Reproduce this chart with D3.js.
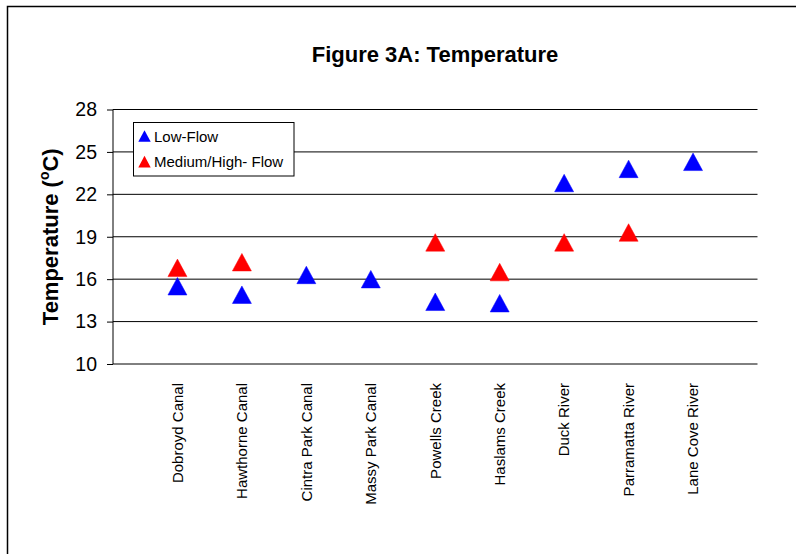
<!DOCTYPE html>
<html>
<head>
<meta charset="utf-8">
<script src="https://cdn.jsdelivr.net/npm/d3@7"></script>
<style>
  body { margin: 0; background: #fff; }
  svg { display: block; font-family: Arial, "Liberation Sans", sans-serif; }
</style>
</head>
<body>
<svg id="chart"></svg>
<script>
// site names along the x axis
const sites = ["Dobroyd Canal", "Hawthorne Canal", "Cintra Park Canal", "Massy Park Canal",
  "Powells Creek", "Haslams Creek", "Duck River", "Parramatta River", "Lane Cove River"];
// temperature readings (null = no sample)
const lowFlow = [15.5, 14.9, 16.3, 16.0, 14.4, 14.3, 22.8, 23.8, 24.3];
const medHighFlow = [16.8, 17.2, null, null, 18.6, 16.5, 18.6, 19.3, null];
const yTicks = [10, 13, 16, 19, 22, 25, 28];
const seriesNames = ["Low-Flow", "Medium/High- Flow"];
const seriesColors = ["#0000ff", "#ff0000"];

const width = 796;
const height = 554;
const marginTop = 109.5;
const marginRight = 38.5;
const marginBottom = 190;
const marginLeft = 113;

const svg = d3.select("#chart")
  .attr("width", width)
  .attr("height", height)
  .attr("viewBox", [0, 0, width, height]);

// outer frame (runs off the bottom/right of the picture)
svg.append("rect")
  .attr("x", 7.5).attr("y", 6.5)
  .attr("width", 820).attr("height", 600)
  .attr("fill", "none")
  .attr("stroke", "#000")
  .attr("stroke-width", 1.5);

const x = d3.scalePoint()
  .domain(sites)
  .range([marginLeft, width - marginRight])
  .padding(1);

const y = d3.scaleLinear()
  .domain([10, 28])
  .range([height - marginBottom, marginTop]);

// title
svg.append("text")
  .attr("x", 435)
  .attr("y", 62)
  .attr("text-anchor", "middle")
  .attr("font-weight", "bold")
  .attr("font-size", 22)
  .text("Figure 3A: Temperature");

// gridlines
svg.append("g")
  .selectAll("line")
  .data(yTicks.slice(1))
  .join("line")
  .attr("x1", marginLeft)
  .attr("x2", width - marginRight)
  .attr("y1", d => y(d))
  .attr("y2", d => y(d))
  .attr("stroke", "#000")
  .attr("stroke-width", 1);

// y axis
const yAxis = svg.append("g")
  .attr("transform", `translate(${marginLeft},0)`)
  .call(d3.axisLeft(y).tickValues(yTicks).tickSize(6).tickPadding(10).tickFormat(d3.format("d")));
yAxis.select(".domain").attr("d", `M0,${y(28)}V${y(10)}`).attr("stroke", "#000");
yAxis.selectAll(".tick line").attr("stroke", "#000");
yAxis.selectAll(".tick text")
  .attr("font-size", 19.5)
  .attr("font-family", "Arial, 'Liberation Sans', sans-serif")
  .attr("fill", "#000");

// x axis line
svg.append("line")
  .attr("x1", marginLeft)
  .attr("x2", width - marginRight)
  .attr("y1", y(10))
  .attr("y2", y(10))
  .attr("stroke", "#000");

// category labels, rotated
svg.append("g")
  .selectAll("text")
  .data(sites)
  .join("text")
  .attr("transform", d => `translate(${x(d)},${y(10) + 19}) rotate(-90)`)
  .attr("dy", "0.35em")
  .attr("text-anchor", "end")
  .attr("font-size", 15)
  .text(d => d);

// y axis title
const yTitle = svg.append("text")
  .attr("transform", `translate(58,${(y(10) + y(28)) / 2}) rotate(-90)`)
  .attr("text-anchor", "middle")
  .attr("font-weight", "bold")
  .attr("font-size", 22);
yTitle.append("tspan").text("Temperature (");
yTitle.append("tspan").attr("font-size", 14).attr("dy", -9).text("o");
yTitle.append("tspan").attr("dy", 9).text("C)");

// triangle markers
const tri = (w, h) => `M0,${-h / 2}L${w / 2},${h / 2}L${-w / 2},${h / 2}Z`;

[lowFlow, medHighFlow].forEach((vals, i) => {
  svg.append("g")
    .selectAll("path")
    .data(sites.map((s, j) => ({ site: s, v: vals[j] })).filter(d => d.v != null))
    .join("path")
    .attr("transform", d => `translate(${x(d.site)},${y(d.v)})`)
    .attr("d", tri(19, 17.5))
    .attr("fill", seriesColors[i])
    .attr("stroke", seriesColors[i])
    .attr("stroke-width", 0.5)
    .attr("stroke-linejoin", "round");
});

// legend
const legend = svg.append("g").attr("transform", "translate(133.5,122.5)");
legend.append("rect")
  .attr("width", 160.5)
  .attr("height", 53.5)
  .attr("fill", "#fff")
  .attr("stroke", "#000");
seriesNames.forEach((name, i) => {
  const row = legend.append("g").attr("transform", `translate(11,${13.5 + i * 25.7})`);
  row.append("path")
    .attr("d", tri(12.4, 11.7))
    .attr("fill", seriesColors[i]);
  row.append("text")
    .attr("x", 9.5)
    .attr("y", 5.6)
    .attr("font-size", 15)
    .text(name);
});
</script>
</body>
</html>
